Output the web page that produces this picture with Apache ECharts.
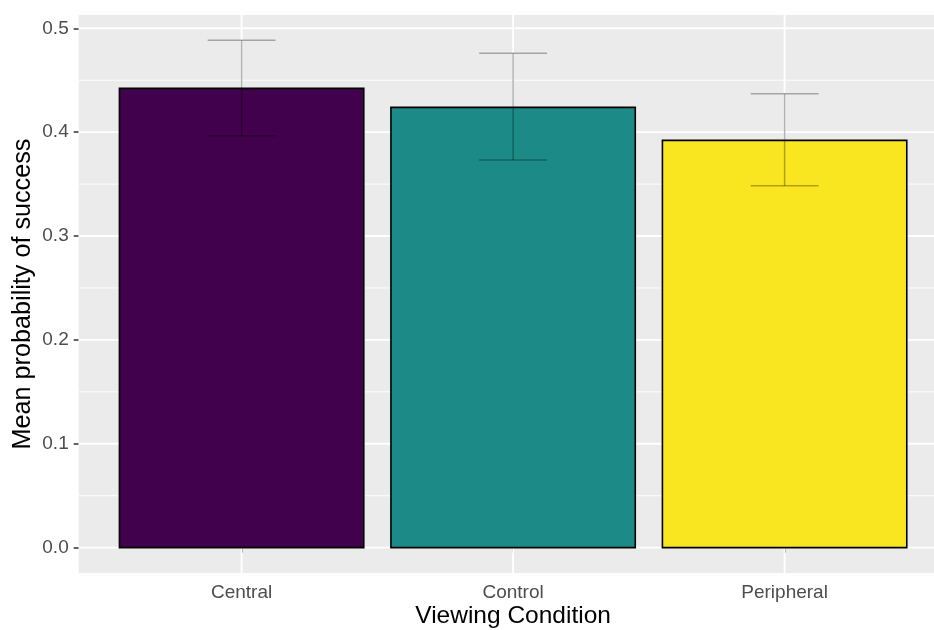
<!DOCTYPE html>
<html>
<head>
<meta charset="utf-8">
<script src="https://cdn.jsdelivr.net/npm/echarts@6/dist/echarts.min.js"></script>
<style>html,body{margin:0;padding:0;background:#fff}#c{width:934px;height:630px}</style>
</head>
<body>
<div id="c"></div>
<script>
// ---- data ----
const categories = ['Central', 'Control', 'Peripheral'];
const catPositions = [1, 2, 3];
const meanValues = [0.4422, 0.4239, 0.3921];
const lowerValues = [0.3965, 0.3731, 0.3484];
const upperValues = [0.4884, 0.4759, 0.4370];
const barColors = ['#42014C', '#1C8B88', '#F9E620'];
const yTicks = [0, 0.1, 0.2, 0.3, 0.4, 0.5];
const yMinorTicks = [0.05, 0.15, 0.25, 0.35, 0.45];

const FONT = 'Liberation Sans, Arial, sans-serif';
const chart = echarts.init(document.getElementById('c'), null, {renderer: 'canvas'});

function hLine(width) {
  return function (params, api) {
    const cs = params.coordSys;
    const y = api.coord([2, api.value(1)])[1];
    return {type: 'line', shape: {x1: cs.x, y1: y, x2: cs.x + cs.width, y2: y},
      style: {stroke: '#ffffff', lineWidth: width}};
  };
}

const option = {
  animation: false,
  backgroundColor: '#ffffff',
  grid: {left: 78.7, top: 15, width: 868.8, bottom: 57, containLabel: false,
    outerBoundsMode: 'none',
    show: true, backgroundColor: '#EBEBEB', borderWidth: 0},
  xAxis: {
    type: 'value', min: 0.4, max: 3.6,
    name: 'Viewing Condition', nameLocation: 'middle', nameGap: 31, nameMoveOverlap: false,
    nameTextStyle: {fontFamily: FONT, fontSize: 24.5, color: '#000'},
    axisLine: {show: false},
    splitLine: {show: false},
    axisTick: {show: true, customValues: catPositions, length: 5, lineStyle: {color: '#333', width: 1.5}},
    axisLabel: {customValues: catPositions, margin: 10, fontFamily: FONT, fontSize: 19, color: '#4D4D4D',
      formatter: v => categories[Math.round(v) - 1] || ''}
  },
  yAxis: {
    type: 'value', min: -0.0244, max: 0.5128,
    name: 'Mean probability of success', nameLocation: 'middle', nameGap: 43, nameMoveOverlap: false,
    nameTextStyle: {fontFamily: FONT, fontSize: 25.2, color: '#000'},
    axisLine: {show: false},
    splitLine: {show: false},
    axisTick: {show: true, customValues: yTicks, length: 5, lineStyle: {color: '#333', width: 1.5}},
    axisLabel: {customValues: yTicks, margin: 10, fontFamily: FONT, fontSize: 19, color: '#4D4D4D',
      formatter: v => v.toFixed(1)}
  },
  series: [
    {type: 'custom', z: 1, silent: true, data: yMinorTicks.map(v => [2, v]), renderItem: hLine(0.9)},
    {type: 'custom', z: 1, silent: true, data: yTicks.map(v => [2, v]), renderItem: hLine(1.9)},
    {type: 'custom', z: 1, silent: true, data: catPositions.map(v => [v, 0]),
      renderItem: function (params, api) {
        const cs = params.coordSys;
        const x = api.coord([api.value(0), 0])[0];
        return {type: 'line', shape: {x1: x, y1: cs.y, x2: x, y2: cs.y + cs.height},
          style: {stroke: '#ffffff', lineWidth: 1.9}};
      }},
    {type: 'custom', z: 2, silent: true,
      data: catPositions.map((p, i) => [p, meanValues[i]]),
      renderItem: function (params, api) {
        const x = api.value(0), v = api.value(1);
        const top = api.coord([x, v]);
        const base = api.coord([x, 0]);
        const w = api.size([0.9, 0])[0];
        return {type: 'rect',
          shape: {x: top[0] - w / 2, y: top[1], width: w, height: base[1] - top[1]},
          style: {fill: barColors[params.dataIndex], stroke: '#000', lineWidth: 1.6}};
      }},
    {type: 'custom', z: 3, silent: true,
      data: catPositions.map((p, i) => [p, lowerValues[i], upperValues[i]]),
      renderItem: function (params, api) {
        const x = api.value(0);
        const lo = api.coord([x, api.value(1)]);
        const hi = api.coord([x, api.value(2)]);
        const cw = api.size([0.25, 0])[0];
        const st = {stroke: 'rgba(0,0,0,0.3)', lineWidth: 1.5};
        return {type: 'group', children: [
          {type: 'line', shape: {x1: lo[0], y1: lo[1], x2: hi[0], y2: hi[1]}, style: st},
          {type: 'line', shape: {x1: lo[0] - cw / 2, y1: lo[1], x2: lo[0] + cw / 2, y2: lo[1]}, style: st},
          {type: 'line', shape: {x1: hi[0] - cw / 2, y1: hi[1], x2: hi[0] + cw / 2, y2: hi[1]}, style: st}
        ]};
      }}
  ]
};
chart.setOption(option);
</script>
</body>
</html>
